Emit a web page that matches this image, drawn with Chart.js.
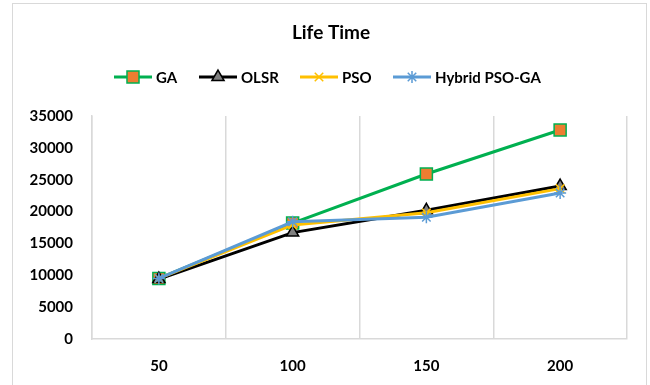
<!DOCTYPE html>
<html>
<head>
<title>Life Time</title>
<script src="https://cdn.jsdelivr.net/npm/chart.js"></script>
<style>
  body { margin: 0; background: #fff; }
</style>
</head>
<body>
<canvas id="lifeChart" width="650" height="385"></canvas>
<script>
// data
var nodes = ['50', '100', '150', '200'];
var gaValues = [9500, 18200, 25900, 32800];
var olsrValues = [9400, 16700, 20200, 24000];
var psoValues = [9500, 17900, 19800, 23600];
var hybridValues = [9500, 18400, 19100, 22900];
var yTicks = [0, 5000, 10000, 15000, 20000, 25000, 30000, 35000];

var FONT = 'Lato, "Open Sans", sans-serif';

// frame, title and a legend with line + marker like Excel
var decor = {
    id: 'decor',
    beforeDraw: function(chart) {
        var c = chart.ctx;
        c.save();
        c.fillStyle = '#fff';
        c.fillRect(0, 0, chart.width, chart.height);
        c.strokeStyle = '#d9d9d9';
        c.lineWidth = 1;
        c.strokeRect(12.5, 3.5, 634, 400);
        c.restore();
    },
    afterDraw: function(chart) {
        var c = chart.ctx;
        c.save();
        c.fillStyle = '#000';
        c.textAlign = 'center';
        c.textBaseline = 'middle';
        c.font = 'bold 19px ' + FONT;
        c.fillText('Life Time', 331, 33);

        var startX = [114, 199, 300, 393];
        var ly = 77;
        chart.data.datasets.forEach(function(ds, i) {
            var x0 = startX[i];
            c.strokeStyle = ds.borderColor;
            c.lineWidth = ds.borderWidth;
            c.beginPath();
            c.moveTo(x0, ly);
            c.lineTo(x0 + 38, ly);
            c.stroke();

            c.fillStyle = ds.pointBackgroundColor;
            c.strokeStyle = ds.pointBorderColor;
            c.lineWidth = ds.pointBorderWidth;
            Chart.helpers.drawPoint(c, {
                pointStyle: ds.pointStyle,
                radius: ds.pointRadius,
                borderWidth: ds.pointBorderWidth,
                rotation: 0
            }, x0 + 19, ly);

            c.fillStyle = '#000';
            c.textAlign = 'left';
            c.font = 'bold 15px ' + FONT;
            c.fillText(ds.label, x0 + 42, ly + 1);
        });
        c.restore();
    }
};

var ctx = document.getElementById('lifeChart').getContext('2d');
var lifeChart = new Chart(ctx, {
    type: 'line',
    data: {
        labels: nodes,
        datasets: [{
            label: 'GA',
            data: gaValues,
            borderColor: '#00b050',
            borderWidth: 3,
            pointStyle: 'rect',
            pointRadius: 8.5,
            pointBackgroundColor: '#ed7d31',
            pointBorderColor: '#00b050',
            pointBorderWidth: 1.5,
            order: 4
        }, {
            label: 'OLSR',
            data: olsrValues,
            borderColor: '#000000',
            borderWidth: 3,
            pointStyle: 'triangle',
            pointRadius: 7,
            pointBackgroundColor: '#808080',
            pointBorderColor: '#000000',
            pointBorderWidth: 1.5,
            order: 3
        }, {
            label: 'PSO',
            data: psoValues,
            borderColor: '#ffc000',
            borderWidth: 3,
            pointStyle: 'crossRot',
            pointRadius: 6,
            pointBackgroundColor: '#ffc000',
            pointBorderColor: '#ffc000',
            pointBorderWidth: 1.5,
            order: 2
        }, {
            label: 'Hybrid PSO-GA',
            data: hybridValues,
            borderColor: '#5b9bd5',
            borderWidth: 3,
            pointStyle: 'star',
            pointRadius: 6,
            pointBackgroundColor: '#5b9bd5',
            pointBorderColor: '#5b9bd5',
            pointBorderWidth: 1.5,
            order: 1
        }]
    },
    options: {
        responsive: false,
        animation: false,
        layout: {
            autoPadding: false,
            padding: { top: 116, right: 23, left: 0, bottom: 0 }
        },
        plugins: {
            legend: { display: false },
            title: { display: false },
            tooltip: { enabled: false }
        },
        scales: {
            x: {
                offset: true,
                grid: { offset: true, color: '#d9d9d9', lineWidth: 1.5, drawTicks: false },
                border: { display: true, color: '#d9d9d9', width: 1.5 },
                ticks: {
                    color: '#000',
                    padding: 18,
                    font: { family: FONT, size: 15, weight: 'bold' }
                },
                afterFit: function(scale) { scale.height = 46; }
            },
            y: {
                min: 0,
                max: 35000,
                afterBuildTicks: function(scale) {
                    scale.ticks = yTicks.map(function(v) { return { value: v }; });
                },
                grid: { display: false, drawTicks: false },
                border: { display: true, color: '#d9d9d9', width: 1.5 },
                ticks: {
                    color: '#000',
                    padding: 19,
                    font: { family: FONT, size: 15, weight: 'bold' },
                    callback: function(v) { return String(v); }
                },
                afterFit: function(scale) { scale.width = 92; }
            }
        }
    },
    plugins: [decor]
});
</script>
</body>
</html>
